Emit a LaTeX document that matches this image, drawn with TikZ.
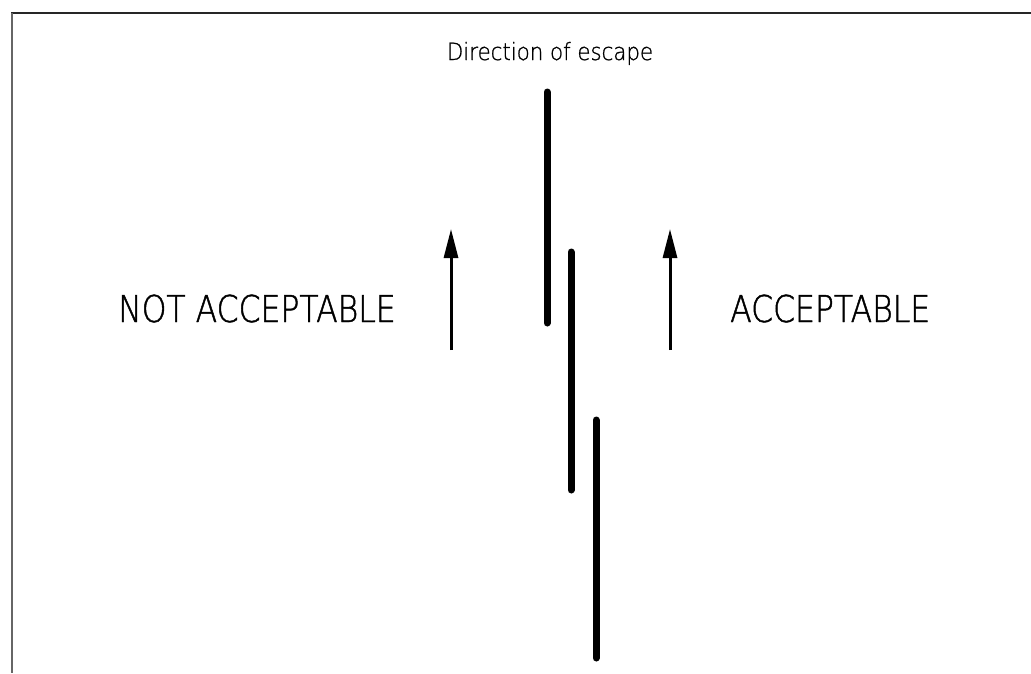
\documentclass[tikz,border=0pt]{standalone}
\usepackage{fontspec}
\usetikzlibrary{arrows.meta}
\newfontfamily\isofont[FakeStretch=0.85,FakeBold=1.2]{DejaVu Sans ExtraLight}
\newfontfamily\isosmall[FakeStretch=0.9,FakeBold=0.9]{DejaVu Sans ExtraLight}
\begin{document}
\begin{tikzpicture}[x=1pt,y=-1pt,
  bar/.style={line width=7pt,line cap=round},
  dirarrow/.style={line width=3pt,-{Triangle[length=29pt,width=14pt]}},
  bigtext/.style={font=\isofont\fontsize{37}{40}\selectfont,inner sep=0pt},
  smalltext/.style={font=\isosmall\fontsize{23.7}{26}\selectfont,inner sep=0pt}]
\useasboundingbox (0,0) rectangle (1031,673);
% frame
\draw[line width=2pt,black!85] (11,13) -- (1031,13);
\draw[line width=2pt,black!60] (12,13) -- (12,673);
% bars
\coordinate (b1t) at (547,92); \coordinate (b1b) at (547,323);
\coordinate (b2t) at (571,252); \coordinate (b2b) at (571,490);
\coordinate (b3t) at (596,420); \coordinate (b3b) at (596,658);
\draw[bar] (b1t) -- (b1b);
\draw[bar] (b2t) -- (b2b);
\draw[bar] (b3t) -- (b3b);
% arrows
\coordinate (l0) at (451,350); \coordinate (l1) at (451,229);
\coordinate (r0) at (670,350); \coordinate (r1) at (670,229);
\draw[dirarrow] (l0) -- (l1);
\draw[dirarrow] (r0) -- (r1);
% texts
\node[smalltext,anchor=base] (dir) at (550,60) {Direction of escape};
\node[bigtext,anchor=base west] (na) at (118,322) {NOT ACCEPTABLE};
\node[bigtext,anchor=base west] (ac) at (730,322) {ACCEPTABLE};
\end{tikzpicture}
\end{document}
